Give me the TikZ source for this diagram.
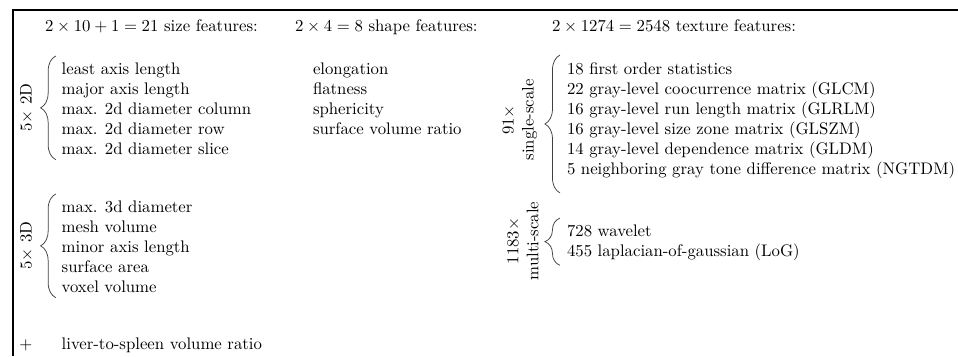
\documentclass[tikz,border=0pt]{standalone}
\usetikzlibrary{decorations.pathreplacing,calc}
\begin{document}
\begin{tikzpicture}[x=0.597pt,y=-0.597pt,
  every node/.style={inner sep=0pt,outer sep=0pt},
  head/.style={anchor=base west},
  featlist/.style={anchor=north west,align=left},
  grouplabel/.style={rotate=90,align=center},
  frame/.style={line width=1.2pt},
  brc/.style={decorate,decoration={brace,amplitude=9pt},line width=0.45pt,black!75}]
\useasboundingbox (0,0) rectangle (958,356);

% open frame: top rule and left rule
\draw[frame] (958,10) -- (13,10) -- (13,356);

% column headings
\node[head] (hsize)    at (45,31)  {$2\times 10+1=21$ size features:};
\node[head] (hshape)   at (295,31) {$2\times 4=8$ shape features:};
\node[head] (htexture) at (552,31) {$2\times 1274=2548$ texture features:};

% size features
\node[featlist] (size2d) at (61.7,62.4) {least axis length\\major axis length\\max. 2d diameter column\\max. 2d diameter row\\max. 2d diameter slice};
\node[featlist] (size3d) at (61.7,200.4) {max. 3d diameter\\mesh volume\\minor axis length\\surface area\\voxel volume};
\node[head] (plus)  at (19.5,349) {$+$};
\node[head] (ratio) at (61.7,349) {liver-to-spleen volume ratio};

\node[grouplabel] (lab2d) at (26.5,107.5) {$5\times$ 2D};
\node[grouplabel] (lab3d) at (26.5,245.5) {$5\times$ 3D};

\draw[brc] ($(size2d.south west)+(-6,5)$) -- ($(size2d.north west)+(-6,-6.4)$);
\draw[brc] ($(size3d.south west)+(-6,5)$) -- ($(size3d.north west)+(-6,-6.4)$);

% shape features
\node[featlist] (shape) at (313,62.4) {elongation\\flatness\\sphericity\\surface volume ratio};

% texture features
\node[featlist] (single) at (567,62.4) {18 first order statistics\\22 gray-level coocurrence matrix (GLCM)\\16 gray-level run length matrix (GLRLM)\\16 gray-level size zone matrix (GLSZM)\\14 gray-level dependence matrix (GLDM)\\5 neighboring gray tone difference matrix (NGTDM)};
\node[featlist] (multi) at (567,224.4) {728 wavelet\\455 laplacian-of-gaussian (LoG)};

\node[grouplabel] (labsingle) at (520,120) {$91\times$\\single-scale};
\node[grouplabel] (labmulti)  at (523,241) {$1183\times$\\multi-scale};

\draw[brc] ($(single.south west)+(-7,14)$) -- ($(single.north west)+(-7,-7.4)$);
\draw[brc] ($(multi.south west)+(-7,5)$) -- ($(multi.north west)+(-7,-6.4)$);
\end{tikzpicture}
\end{document}
